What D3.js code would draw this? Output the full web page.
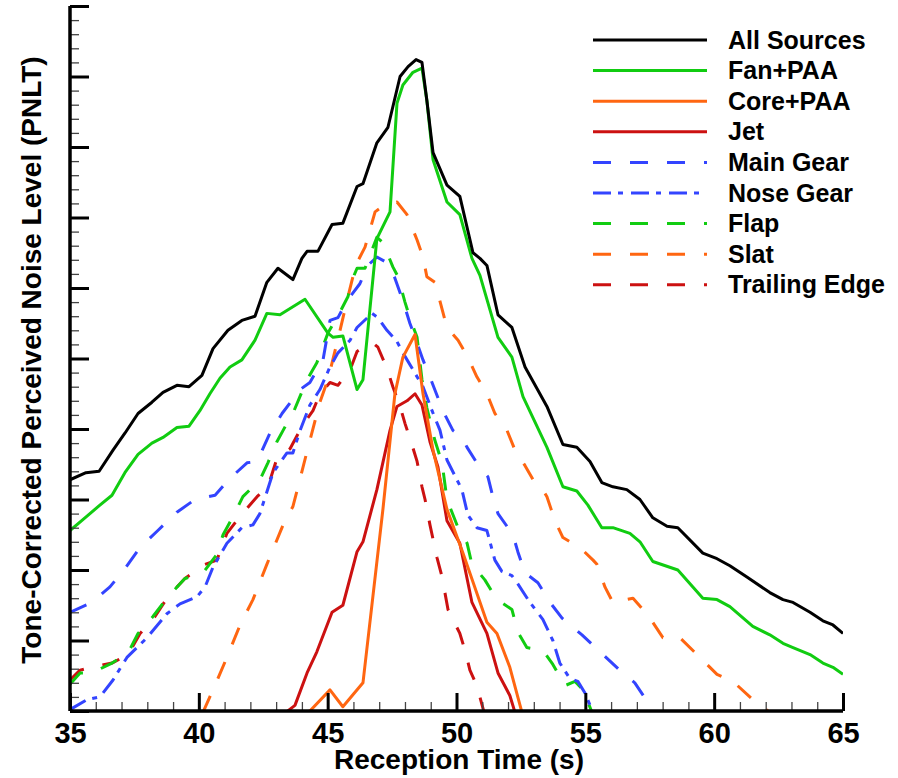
<!DOCTYPE html>
<html>
<head>
<meta charset="utf-8">
<script src="https://cdn.jsdelivr.net/npm/d3@7"></script>
<style>
  body { margin: 0; background: #fff; }
  text { font-family: "Liberation Sans", Arial, sans-serif; font-weight: bold; fill: #000; }
</style>
</head>
<body>
<svg></svg>
<script>
// [reception time (s), PNLT]
const allSources = [[35.00,56.4],[35.62,56.9],[36.13,57.0],[36.67,58.5],[37.13,59.7],[37.64,61.1],[38.18,61.9],[38.61,62.6],[39.15,63.1],[39.62,63.0],[40.12,63.8],[40.55,65.7],[41.13,67.0],[41.67,67.7],[42.18,68.0],[42.64,70.4],[43.07,71.4],[43.65,70.6],[44.00,72.1],[44.20,72.6],[44.62,72.6],[45.17,74.5],[45.59,74.6],[46.14,77.2],[46.37,77.4],[46.91,80.3],[47.34,81.4],[47.81,85.0],[48.12,85.7],[48.43,86.2],[48.66,86.0],[48.85,83.3],[49.09,79.6],[49.63,77.3],[50.13,76.5],[50.64,72.5],[50.91,72.1],[51.18,71.6],[51.61,68.1],[52.15,67.2],[52.66,64.4],[53.51,61.6],[54.13,58.9],[54.67,58.7],[55.18,57.7],[55.64,56.2],[56.07,55.9],[56.61,55.7],[57.12,55.0],[57.62,53.7],[58.17,53.1],[58.59,53.0],[59.56,51.2],[60.11,50.8],[60.61,50.3],[61.27,49.5],[62.16,48.4],[62.67,47.9],[63.06,47.7],[63.72,47.0],[64.22,46.4],[64.61,46.1],[65.00,45.5]]
const fanPAA = [[35.00,52.8],[35.58,53.7],[36.16,54.6],[36.63,55.3],[37.13,56.9],[37.64,58.2],[38.18,59.0],[38.61,59.4],[39.15,60.1],[39.62,60.2],[40.04,61.3],[40.43,62.5],[40.82,63.6],[41.21,64.4],[41.67,64.9],[42.18,66.3],[42.64,68.2],[43.15,68.1],[44.12,69.2],[45.01,66.8],[45.21,66.5],[45.59,66.6],[46.14,62.8],[46.37,63.5],[46.91,73.5],[47.42,75.4],[47.69,83.1],[47.92,84.4],[48.31,85.3],[48.66,85.6],[48.85,83.3],[49.09,79.1],[49.63,76.1],[50.13,75.2],[50.60,72.1],[50.91,70.9],[51.61,66.5],[52.15,65.1],[52.58,62.3],[53.51,58.7],[54.13,55.9],[54.67,55.6],[55.10,54.6],[55.64,53.0],[56.07,53.0],[56.73,52.6],[57.12,52.0],[57.62,50.6],[58.59,50.0],[59.56,48.0],[60.11,47.9],[60.61,47.4],[61.50,46.0],[62.16,45.4],[62.67,44.8],[63.06,44.5],[63.72,44.0],[64.22,43.4],[64.61,43.1],[65.00,42.6]]
const corePAA = [[44.12,39.9],[44.31,40.0],[45.09,41.5],[45.59,40.3],[46.37,42.0],[47.15,54.4],[47.61,62.5],[47.92,65.1],[48.39,66.7],[48.70,62.5],[49.09,58.5],[49.63,54.3],[50.25,51.2],[51.18,46.3],[51.57,45.5],[52.07,43.1],[52.54,39.9]]
const jet = [[43.38,39.9],[43.73,40.4],[44.20,42.7],[44.58,44.2],[45.17,47.0],[45.59,47.5],[46.14,51.3],[46.37,52.0],[46.91,55.7],[47.42,59.9],[47.69,61.6],[48.08,62.0],[48.39,62.5],[48.66,61.7],[48.97,59.1],[49.28,57.3],[49.63,53.5],[50.13,51.9],[50.60,47.7],[51.18,45.5],[51.61,42.7],[52.07,41.1],[52.27,39.9]]
const mainGear = [[35.00,47.0],[35.85,47.7],[36.55,48.8],[37.13,50.1],[37.72,51.6],[38.41,52.8],[39.15,54.1],[39.85,55.0],[40.63,55.3],[41.21,56.5],[41.87,57.6],[42.26,57.7],[42.76,59.7],[43.23,61.1],[43.93,62.8],[44.31,63.3],[44.82,64.9],[45.09,67.7],[45.40,67.9],[45.75,69.1],[46.25,70.3],[46.56,71.6],[46.91,72.2],[47.30,71.8],[47.61,70.7],[47.92,69.1],[48.19,67.5],[48.39,66.5],[48.70,64.9],[49.05,63.3],[49.47,61.3],[49.86,59.9],[50.21,59.4],[50.41,58.7],[50.79,57.6],[51.22,56.6],[51.41,55.2],[51.61,54.0],[52.19,52.5],[52.38,51.3],[52.66,49.8],[53.16,49.1],[53.63,47.7],[54.09,46.6],[54.87,45.4],[55.57,44.2],[56.27,43.0],[56.92,42.0],[57.43,40.6],[57.62,39.9]]
const noseGear = [[35.00,40.1],[35.66,40.8],[36.16,41.0],[36.67,42.2],[37.21,43.8],[37.99,45.2],[38.76,46.9],[39.27,47.6],[39.93,48.1],[40.24,48.8],[40.55,50.2],[41.09,51.9],[41.67,53.0],[42.10,53.2],[42.37,54.0],[42.88,56.9],[43.42,58.3],[43.65,58.3],[43.93,59.9],[44.31,61.7],[44.70,62.8],[45.09,64.4],[45.40,65.4],[45.87,66.3],[46.14,67.2],[46.72,68.2],[46.95,67.9],[47.30,67.0],[47.69,66.2],[47.92,65.4],[48.31,64.2],[48.70,63.0],[49.05,61.3],[49.36,59.9],[49.63,57.8],[50.21,55.7],[50.44,53.9],[50.79,53.0],[51.18,52.8],[51.49,50.7],[51.76,49.9],[52.15,49.6],[52.35,49.1],[52.85,47.7],[53.35,46.5],[53.74,45.0],[54.01,43.4],[54.40,42.3],[54.71,42.1],[54.98,41.3],[55.30,39.9]]
const flap = [[35.00,41.9],[35.39,42.7],[35.85,42.7],[36.63,43.4],[37.25,44.1],[37.64,45.5],[38.22,46.7],[38.80,48.1],[39.46,49.4],[40.16,49.8],[40.70,51.1],[40.94,52.5],[41.33,53.8],[41.71,55.2],[42.37,56.4],[42.68,57.6],[43.03,59.1],[43.42,60.4],[43.65,61.1],[44.20,63.5],[44.58,64.7],[45.01,66.8],[45.48,68.3],[45.79,69.4],[45.98,70.7],[46.14,71.4],[46.45,71.4],[46.91,73.6],[47.15,73.2],[47.53,71.5],[47.73,70.8],[48.00,69.0],[48.19,67.9],[48.47,66.5],[48.66,63.5],[48.85,61.5],[49.16,59.2],[49.44,57.6],[49.63,55.0],[50.06,53.0],[50.41,51.9],[50.60,50.4],[51.10,49.3],[51.57,47.9],[52.15,47.2],[52.38,45.6],[52.73,44.5],[53.35,44.3],[53.74,43.3],[54.21,41.8],[54.60,42.1],[54.91,41.5],[55.37,39.4]]
const slat = [[40.16,39.9],[40.55,41.5],[41.09,43.8],[41.60,46.1],[42.10,47.9],[42.64,50.4],[43.27,53.2],[43.65,54.5],[43.85,55.9],[44.24,58.7],[44.70,61.9],[45.01,63.5],[45.48,67.0],[45.75,69.1],[45.98,70.8],[46.14,71.8],[46.45,72.9],[46.84,75.4],[47.22,75.9],[47.69,76.1],[48.08,75.2],[48.47,73.4],[48.70,72.2],[48.85,70.8],[49.16,70.4],[49.28,69.6],[49.63,67.2],[50.06,66.3],[50.44,65.1],[50.79,63.7],[51.18,62.5],[51.49,61.1],[51.96,59.9],[52.27,58.5],[52.66,57.4],[53.04,56.2],[53.35,55.7],[53.51,55.2],[53.82,53.5],[54.13,52.3],[54.79,51.6],[55.30,50.7],[55.45,50.4],[55.76,48.8],[56.07,47.7],[56.85,48.0],[57.43,46.8],[58.01,45.2],[58.67,45.2],[59.45,43.8],[60.11,42.6],[60.73,42.1],[61.50,40.8],[62.16,39.9]]
const trailingEdge = [[35.00,42.2],[35.39,42.9],[35.85,43.1],[36.63,43.4],[37.25,44.0],[37.72,45.5],[38.30,46.7],[38.80,48.1],[39.46,49.4],[40.24,50.4],[40.70,50.7],[41.09,52.6],[41.60,53.8],[42.26,55.2],[42.68,55.9],[43.03,57.9],[43.54,58.6],[44.04,60.3],[44.43,61.3],[44.70,62.5],[45.09,63.3],[45.40,63.1],[45.87,64.2],[46.14,65.5],[46.56,66.0],[46.76,66.1],[46.95,65.8],[47.30,64.3],[47.53,63.0],[47.81,61.6],[48.00,60.4],[48.27,58.9],[48.47,57.7],[48.66,55.9],[48.78,55.0],[48.97,53.2],[49.24,50.9],[49.44,49.5],[49.67,47.2],[50.13,45.5],[50.33,44.3],[50.52,42.9],[50.79,41.8],[51.07,39.9]]

const xTicks = [35, 40, 45, 50, 55, 60, 65]

// series in legend order
let series = [
    { name: 'All Sources', data: allSources, color: '#000000', dash: null },
    { name: 'Fan+PAA', data: fanPAA, color: '#11cc11', dash: null },
    { name: 'Core+PAA', data: corePAA, color: '#ff6611', dash: null },
    { name: 'Jet', data: jet, color: '#cc1111', dash: null },
    { name: 'Main Gear', data: mainGear, color: '#3344ff', dash: '18,19' },
    { name: 'Nose Gear', data: noseGear, color: '#3344ff', dash: '18,7,5,8' },
    { name: 'Flap', data: flap, color: '#11cc11', dash: '18,19' },
    { name: 'Slat', data: slat, color: '#ff6611', dash: '18,19' },
    { name: 'Trailing Edge', data: trailingEdge, color: '#cc1111', dash: '18,19' }
]

// Canvas setup
let width = 898
let height = 778
let plotLeft = 70, plotRight = 843, plotTop = 6, plotBottom = 711
let svg = d3.select('svg').attr('width', width).attr('height', height)

let xScale = d3.scaleLinear().domain([35, 65]).range([plotLeft, plotRight])
let yScale = d3.scaleLinear().domain([40, 90]).range([plotBottom, plotTop])

svg.append('clipPath').attr('id', 'plot-clip')
    .append('rect')
    .attr('x', plotLeft).attr('y', plotTop)
    .attr('width', plotRight - plotLeft).attr('height', plotBottom - plotTop)

// Draw curves, last legend entry first so black ends on top
let line = d3.line()
    .x((d) => xScale(d[0]))
    .y((d) => yScale(d[1]))

let plot = svg.append('g').attr('clip-path', 'url(#plot-clip)')
series.slice().reverse().forEach((s) => {
    plot.append('path')
        .datum(s.data)
        .attr('d', line)
        .attr('fill', 'none')
        .attr('stroke', s.color)
        .attr('stroke-width', 3)
        .attr('stroke-linejoin', 'round')
        .attr('stroke-dasharray', s.dash)
})

// Minor ticks
let xMinor = d3.axisBottom(xScale).tickValues(d3.range(35, 65.1, 1)).tickSize(-9).tickFormat('')
let yMinor = d3.axisLeft(yScale).tickValues(d3.range(40, 90.1, 1)).tickSize(-9).tickFormat('')
svg.append('g').attr('class', 'minor').attr('transform', 'translate(0,' + plotBottom + ')').call(xMinor)
svg.append('g').attr('class', 'minor').attr('transform', 'translate(' + plotLeft + ',0)').call(yMinor)
svg.selectAll('.minor line').attr('stroke', '#444').attr('stroke-width', 1.3)
svg.selectAll('.minor .domain').remove()

// Major ticks and axes
let xAxis = d3.axisBottom(xScale).tickValues(xTicks).tickSize(-18).tickPadding(11).tickFormat(d3.format('d'))
let yAxis = d3.axisLeft(yScale).tickValues(d3.range(40, 90.1, 5)).tickSize(-19).tickFormat('')
let gx = svg.append('g').attr('transform', 'translate(0,' + plotBottom + ')').call(xAxis)
let gy = svg.append('g').attr('transform', 'translate(' + plotLeft + ',0)').call(yAxis)
gx.selectAll('line').attr('stroke', '#000').attr('stroke-width', 3)
gy.selectAll('line').attr('stroke', '#000').attr('stroke-width', 3)
gx.select('.domain').attr('d', 'M' + plotLeft + ',0H' + plotRight).attr('stroke', '#000').attr('stroke-width', 3.5)
gy.select('.domain').attr('d', 'M0,' + plotTop + 'V' + plotBottom).attr('stroke', '#000').attr('stroke-width', 3.5)
gx.selectAll('text').style('font-size', '29px').style('font-family', '"Liberation Sans", Arial, sans-serif').attr('fill', '#000')

// Axis titles
svg.append('text')
    .attr('x', 459).attr('y', 769)
    .attr('text-anchor', 'middle')
    .style('font-size', '28px')
    .text('Reception Time (s)')

svg.append('text')
    .attr('transform', 'translate(41,360) rotate(-90)')
    .attr('text-anchor', 'middle')
    .style('font-size', '28px')
    .text('Tone-Corrected Perceived Noise Level (PNLT)')

// Legend
let legend = svg.append('g')
series.forEach((s, i) => {
    let y = 40 + i * 30.6
    legend.append('line')
        .attr('x1', 593).attr('x2', 707)
        .attr('y1', y).attr('y2', y)
        .attr('stroke', s.color)
        .attr('stroke-width', 3)
        .attr('stroke-dasharray', s.dash)
    legend.append('text')
        .attr('x', 728).attr('y', y + 8.5)
        .style('font-size', '25px')
        .text(s.name)
})
</script>
</body>
</html>
